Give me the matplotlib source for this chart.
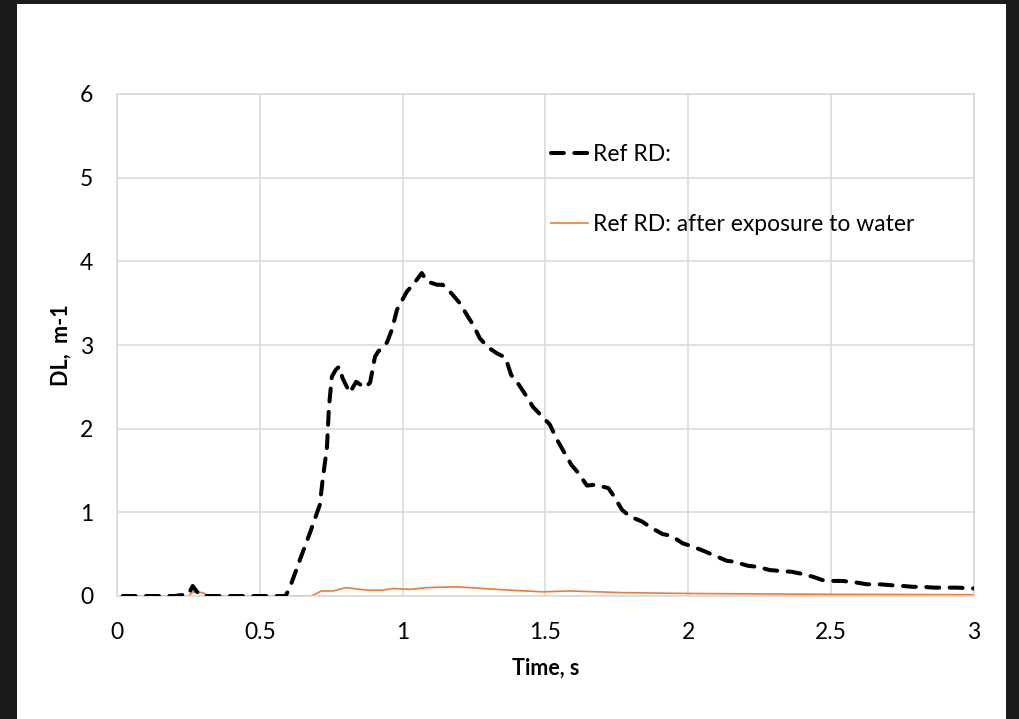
import matplotlib.pyplot as plt
from matplotlib.patches import Rectangle

# series
t_ref = [0.02, 0.1, 0.2, 0.25, 0.265, 0.28, 0.30, 0.4, 0.5, 0.59, 0.605, 0.64, 0.675,
         0.71, 0.72, 0.735, 0.742, 0.752, 0.765, 0.777, 0.79, 0.815, 0.837, 0.868,
         0.886, 0.903, 0.914, 0.945, 0.962, 0.98, 1.015, 1.036, 1.067, 1.085, 1.12,
         1.14, 1.17, 1.20, 1.23, 1.247, 1.27, 1.30, 1.33, 1.36, 1.38, 1.40, 1.435,
         1.456, 1.49, 1.515, 1.54, 1.56, 1.59, 1.615, 1.645, 1.673, 1.72, 1.736,
         1.768, 1.796, 1.838, 1.873, 1.91, 1.94, 1.98, 2.016, 2.06, 2.087, 2.135,
         2.16, 2.21, 2.24, 2.285, 2.32, 2.36, 2.39, 2.436, 2.47, 2.51, 2.54, 2.59,
         2.625, 2.67, 2.705, 2.75, 2.786, 2.82, 2.86, 2.9, 2.94, 3.0]
dl_ref = [0, 0, 0, 0.02, 0.12, 0.05, 0, 0, 0, 0, 0.1, 0.43, 0.75,
          1.09, 1.39, 1.78, 2.26, 2.62, 2.7, 2.74, 2.6, 2.43, 2.56, 2.49,
          2.55, 2.86, 2.92, 3.03, 3.18, 3.42, 3.64, 3.72, 3.86, 3.76, 3.72,
          3.72, 3.62, 3.5, 3.33, 3.24, 3.08, 2.97, 2.9, 2.85, 2.64, 2.56, 2.38,
          2.26, 2.14, 2.05, 1.87, 1.75, 1.57, 1.47, 1.32, 1.33, 1.29, 1.21,
          1.03, 0.95, 0.89, 0.81, 0.74, 0.72, 0.63, 0.59, 0.53, 0.49, 0.42,
          0.41, 0.36, 0.35, 0.31, 0.30, 0.29, 0.27, 0.23, 0.19, 0.18, 0.18, 0.16,
          0.14, 0.14, 0.13, 0.12, 0.11, 0.11, 0.10, 0.10, 0.10, 0.09]

t_water = [0.02, 0.25, 0.265, 0.30, 0.32, 0.68, 0.716, 0.757, 0.80, 0.874, 0.93,
           0.967, 1.025, 1.084, 1.19, 1.28, 1.375, 1.49, 1.585, 1.68, 1.77, 2.0,
           2.5, 3.0]
dl_water = [0, 0, 0.05, 0.04, 0, 0, 0.06, 0.06, 0.1, 0.07, 0.07,
            0.09, 0.08, 0.1, 0.11, 0.09, 0.07, 0.05, 0.06, 0.05, 0.04, 0.03,
            0.02, 0.015]

label_ref = "Ref RD:"
label_water = "Ref RD: after exposure to water"
xticks = [0, 0.5, 1, 1.5, 2, 2.5, 3]
xtick_labels = ["0", "0.5", "1", "1.5", "2", "2.5", "3"]
yticks = [0, 1, 2, 3, 4, 5, 6]

plt.rcParams['font.family'] = ['Lato', 'DejaVu Sans']

fig = plt.figure(figsize=(10.2, 7.19), dpi=100, facecolor='#1b1b1b')
fig.patches.append(Rectangle((17 / 1020, 0), 989 / 1020, 715 / 719,
                             transform=fig.transFigure, facecolor='white',
                             edgecolor='none', zorder=-5))

ax = fig.add_axes([117 / 1020, 1 - 596 / 719, 857 / 1020, 502 / 719])
ax.set_facecolor('white')

ax.plot(t_ref, dl_ref, color='black', lw=2.9, linestyle=(0, (3.2, 2.6)),
        dash_capstyle='round', label=label_ref, zorder=3)
ax.plot(t_water, dl_water, color='#ED7D31', lw=1.2, label=label_water, zorder=2)

ax.set_xlim(0, 3)
ax.set_ylim(0, 6)
ax.set_xticks(xticks)
ax.set_xticklabels(xtick_labels)
ax.set_yticks(yticks)
ax.grid(True, color='#d9d9d9', lw=1.1)
ax.set_axisbelow(True)
for s in ax.spines.values():
    s.set_color('#d9d9d9')
    s.set_linewidth(1.1)
ax.tick_params(length=0, labelsize=16.5, colors='black')
ax.tick_params(axis='x', pad=19)
ax.tick_params(axis='y', pad=17)

ax.set_xlabel("Time, s", fontsize=15.5, fontweight='bold', labelpad=10)
ax.set_ylabel("DL,  m-1", fontsize=15.5, fontweight='bold', labelpad=6)

ax.legend(loc='upper left', bbox_to_anchor=(0.507, 0.90), frameon=False,
          fontsize=16.5, handlelength=1.6, handletextpad=0.2,
          labelspacing=2.15, borderpad=0, borderaxespad=0)

fig.savefig("out.png", dpi=100, facecolor=fig.get_facecolor())
